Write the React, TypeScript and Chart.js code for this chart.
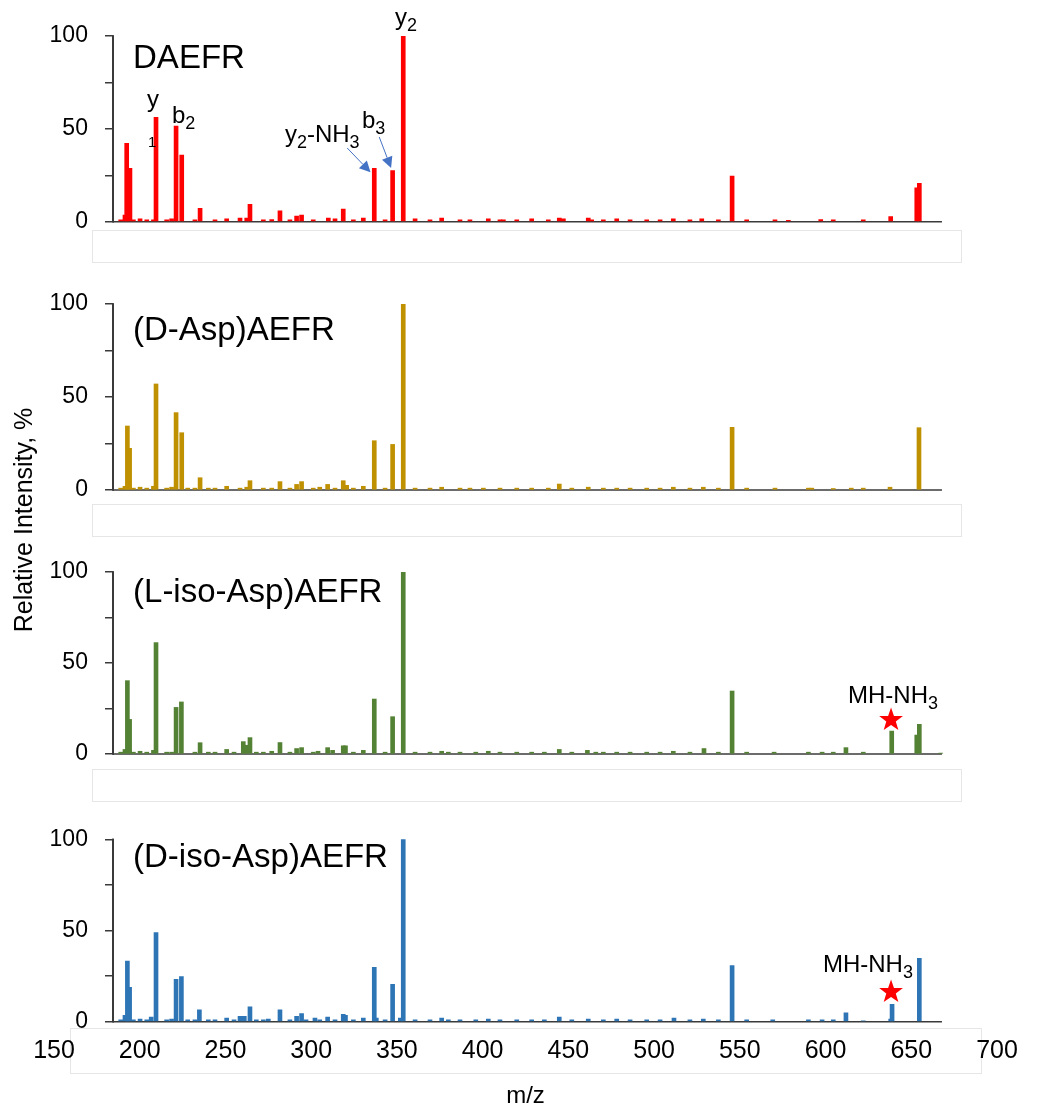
import React, { useEffect, useRef } from "react";
import { Chart, registerables } from "chart.js";

Chart.register(...registerables);

const FONT = "'Liberation Sans', Arial, Helvetica, sans-serif";
const AXIS_COLOR = "#3a3a3a";
const ARROW_COLOR = "#4472C4";
const STAR_COLOR = "#FF0000";

// ---- axes ----
const X_MIN = 150;
const X_MAX = 700;
const X_TICKS = [150, 200, 250, 300, 350, 400, 450, 500, 550, 600, 650, 700];
const Y_MIN = 0;
const Y_MAX = 100;
const Y_TICKS = [0, 25, 50, 75, 100];
const Y_TICK_LABELS = [0, 50, 100];
const AXIS_START = 184.4; // m/z where the vertical axis stands
const AXIS_END = 667.9; // m/z where the horizontal axis line stops
const Y_LABEL_MZ = 169.8; // m/z where the y tick labels end (right-aligned)
const X_TITLE = "m/z";
const Y_TITLE = "Relative Intensity, %";

// ---- series ----
const PANEL_NAMES = ["DAEFR", "(D-Asp)AEFR", "(L-iso-Asp)AEFR", "(D-iso-Asp)AEFR"];
const PANEL_COLORS = ["#FF0000", "#BF9000", "#548235", "#2E75B6"];

const daefrMz = [
  188.9, 191.4, 192.4, 194.3, 196.3, 200.2, 204.1, 208.0, 209.5, 215.7, 218.6, 221.2, 224.5, 232.2,
  235.2, 243.9, 250.7, 258.5, 262.4, 264.3, 272.1, 277.0, 281.8, 287.6, 291.5, 294.4, 301.2, 310.0,
  313.9, 318.7, 324.6, 330.4, 336.8, 343.1, 347.5, 353.7, 360.6, 369.3, 376.1, 386.8, 392.6, 403.3,
  410.1, 412.1, 419.9, 428.6, 438.3, 444.7, 447.1, 461.6, 463.6, 470.4, 478.2, 486.0, 495.7, 503.5,
  511.2, 520.9, 527.8, 537.5, 545.5, 554.0, 570.5, 578.3, 597.2, 604.5, 622.0, 638.0, 653.2, 654.7,
];
const daefrInt = [
  1, 3.6, 42.2, 28.7, 1, 1.5, 1, 1, 56.2, 1, 1.5, 51.5, 35.9, 1,
  7.2, 1, 1.5, 2, 2, 9.4, 1, 1.2, 5.9, 1, 3, 3.5, 1, 2,
  1.5, 6.8, 1, 2, 28.7, 1, 27.5, 100, 1.5, 1, 2, 1, 1, 1.5,
  1, 1, 1, 1.5, 1, 2, 1.5, 2, 1, 1, 1.5, 1, 1, 1,
  1.5, 1, 1.5, 1, 24.6, 1, 1, 0.8, 1.2, 1, 1, 2.7, 18.3, 20.7,
];

const dAspMz = [
  188.9, 191.4, 192.8, 194.1, 196.3, 200.2, 204.1, 208.0, 209.5, 215.7, 218.6, 221.2, 224.5, 228.0,
  232.2, 235.2, 240.0, 243.9, 250.7, 258.5, 262.4, 264.3, 272.1, 277.0, 281.8, 287.6, 291.5, 294.4,
  301.2, 305.0, 309.6, 313.9, 318.7, 320.7, 324.6, 330.4, 336.8, 343.1, 347.5, 353.7, 360.6, 369.3,
  376.1, 386.8, 392.6, 400.4, 410.1, 419.9, 428.6, 438.3, 444.7, 452.0, 461.6, 470.4, 478.2, 486.0,
  495.7, 503.5, 511.2, 520.9, 528.7, 537.5, 545.5, 554.0, 570.5, 590.0, 592.0, 604.5, 615.0, 622.0,
  637.6, 654.5,
];
const dAspInt = [
  1, 2, 34.4, 22.4, 1, 1.5, 1, 2, 57, 1, 1.5, 41.6, 30.8, 1,
  1, 6.6, 1, 1, 2, 1, 1.5, 5, 1, 1, 4.5, 1, 3, 4.5,
  1, 1.5, 3, 1, 5, 2.5, 1, 2, 26.5, 1, 24.5, 100, 1, 1,
  1.5, 1, 1, 1, 1, 1, 1, 1, 3.2, 1, 1.5, 1, 1, 1,
  1, 1, 1.5, 1, 1.5, 1, 33.7, 1, 1, 1, 1, 0.8, 1, 1,
  1.5, 33.5,
];

const lIsoAspMz = [
  188.9, 191.4, 192.8, 194.1, 196.3, 200.2, 204.1, 208.0, 209.5, 215.7, 218.6, 221.2, 224.3, 232.2,
  235.2, 240.0, 243.9, 250.7, 255.0, 260.4, 261.8, 264.3, 268.0, 272.1, 277.0, 281.8, 287.6, 291.5,
  294.4, 301.2, 304.0, 309.6, 312.5, 318.7, 320.0, 324.6, 330.4, 336.8, 343.1, 347.5, 353.7, 360.6,
  369.3, 376.1, 380.0, 386.8, 396.0, 403.3, 410.1, 419.9, 428.6, 436.0, 444.7, 452.0, 461.1, 466.0,
  470.4, 478.2, 486.0, 495.7, 503.5, 511.2, 520.9, 529.1, 537.5, 545.5, 554.0, 570.0, 590.0, 598.0,
  604.5, 611.9, 622.0, 638.6, 653.2, 654.7, 667.2,
];
const lIsoAspInt = [
  1, 2.5, 40.3, 19, 1, 1.5, 1, 2, 61.2, 1, 1, 25.6, 28.6, 1,
  6.2, 1, 1, 2.5, 1, 6.8, 4.8, 9, 1, 1, 1.5, 6.3, 1, 3,
  3.5, 1, 1.5, 3.5, 2, 4.5, 4.5, 1, 2, 30.2, 1, 20.5, 100, 1,
  1, 1.5, 1, 1, 1, 1.5, 1, 1, 1, 1, 2.5, 1, 2, 1,
  1, 1, 1, 1, 1, 1.5, 1, 3, 1, 34.6, 1, 1, 1, 1,
  1, 3.5, 1, 12.6, 10.4, 16.3, 0.5,
];

const dIsoAspMz = [
  188.9, 191.4, 192.8, 194.1, 196.3, 200.2, 204.1, 206.7, 209.5, 215.7, 218.6, 221.2, 224.3, 228.0,
  232.2, 234.8, 240.0, 243.9, 250.7, 255.0, 258.5, 261.0, 264.3, 268.0, 272.1, 275.0, 281.8, 287.6,
  291.5, 294.4, 297.0, 302.2, 305.0, 309.6, 313.9, 318.7, 320.0, 324.6, 330.4, 336.8, 338.0, 343.1,
  347.5, 352.0, 353.7, 360.6, 369.3, 376.1, 380.0, 386.8, 396.0, 403.3, 410.1, 419.9, 428.6, 436.0,
  444.7, 452.0, 461.6, 470.4, 478.2, 486.0, 495.7, 503.5, 511.6, 520.9, 528.7, 537.5, 545.5, 554.0,
  569.2, 590.0, 598.0, 604.5, 611.9, 622.0, 638.0, 638.8, 654.7,
];
const dIsoAspInt = [
  1, 3.5, 33.3, 18.9, 1, 1.5, 1, 2.5, 48.8, 1, 1.5, 23.2, 24.7, 1,
  1, 6.5, 1, 1, 2, 1, 3, 3, 8.2, 1, 1, 1.5, 6.5, 1,
  3, 4.5, 1, 2, 1, 2.5, 1, 4, 3.5, 1, 2, 29.8, 2, 1,
  20.5, 2, 100, 1, 1, 2, 1, 1, 1, 1.5, 1, 1, 1, 1,
  2.5, 1, 1.5, 1, 1.5, 1, 1, 1, 2, 1, 1.5, 1, 30.7, 1,
  1, 1, 1, 1, 4.9, 0.5, 1.5, 9.5, 34.7,
];

// ---- annotations (anchored in data units: m/z, intensity) ----
type TextNote = { text: string; mz: number; val: number; size: number };
type ArrowNote = { fromMz: number; fromVal: number; toMz: number; toVal: number };
type StarNote = { mz: number; val: number };

const PANEL_TITLE_MZ = 196.1;
const PANEL_TITLE_VAL = [82.6, 80.6, 83.7, 85.0];

const NOTES: TextNote[][] = [
  [
    { text: "y", mz: 204.2, val: 61.9, size: 24 },
    { text: "1", mz: 204.8, val: 40.2, size: 15 },
    { text: "b_2", mz: 218.8, val: 53.1, size: 24 },
    { text: "y_2", mz: 348.9, val: 105.9, size: 24 },
    { text: "y_2-NH_3", mz: 284.7, val: 43.1, size: 24 },
    { text: "b_3", mz: 329.6, val: 50.4, size: 24 },
  ],
  [],
  [{ text: "MH-NH_3", mz: 613.1, val: 27.9, size: 24 }],
  [{ text: "MH-NH_3", mz: 598.5, val: 27.4, size: 24 }],
];
const ARROWS: ArrowNote[][] = [
  [
    { fromMz: 321.0, fromVal: 39.7, toMz: 334.6, toVal: 26.6 },
    { fromMz: 339.7, fromVal: 45.6, toMz: 346.6, toVal: 28.9 },
  ],
  [],
  [],
  [],
];
const STARS: StarNote[][] = [[], [], [{ mz: 638.2, val: 18.7 }], [{ mz: 638.2, val: 16.3 }]];

const PANEL_MZ = [daefrMz, dAspMz, lIsoAspMz, dIsoAspMz];
const PANEL_INT = [daefrInt, dAspInt, lIsoAspInt, dIsoAspInt];

// ---- layout (canvas top, height, padding) ----
const LAYOUT = [
  { top: 0, height: 280, padTop: 36, padBottom: 58.3 },
  { top: 280, height: 260, padTop: 24, padBottom: 50 },
  { top: 540, height: 250, padTop: 32, padBottom: 36 },
  { top: 790, height: 325, padTop: 49.3, padBottom: 0 },
];
const X_AXIS_HEIGHT = 93.3;
const BOXES = [
  { left: 92, top: 230, width: 870, height: 33 },
  { left: 92, top: 504, width: 870, height: 33 },
  { left: 92, top: 769, width: 870, height: 33 },
  { left: 70, top: 1028, width: 912, height: 46 },
];

function drawRich(ctx: CanvasRenderingContext2D, text: string, x: number, y: number, size: number) {
  const subSize = Math.round(size * 0.75);
  let cx = x;
  let i = 0;
  while (i < text.length) {
    if (text[i] === "_" && i + 1 < text.length) {
      ctx.font = `${subSize}px ${FONT}`;
      ctx.fillText(text[i + 1], cx, y + size * 0.25);
      cx += ctx.measureText(text[i + 1]).width;
      i += 2;
    } else {
      let j = i;
      while (j < text.length && text[j] !== "_") j++;
      const part = text.slice(i, j);
      ctx.font = `${size}px ${FONT}`;
      ctx.fillText(part, cx, y);
      cx += ctx.measureText(part).width;
      i = j;
    }
  }
}

function drawStar(ctx: CanvasRenderingContext2D, cx: number, cy: number, R: number, r: number) {
  ctx.beginPath();
  for (let k = 0; k < 10; k++) {
    const a = -Math.PI / 2 + (k * Math.PI) / 5;
    const rad = k % 2 === 0 ? R : r;
    const px = cx + rad * Math.cos(a);
    const py = cy + rad * Math.sin(a);
    if (k === 0) ctx.moveTo(px, py);
    else ctx.lineTo(px, py);
  }
  ctx.closePath();
  ctx.fill();
}

function drawArrow(ctx: CanvasRenderingContext2D, x1: number, y1: number, x2: number, y2: number) {
  const ang = Math.atan2(y2 - y1, x2 - x1);
  const headLen = 11;
  const headW = 5.5;
  const bx = x2 - headLen * Math.cos(ang);
  const by = y2 - headLen * Math.sin(ang);
  ctx.strokeStyle = ARROW_COLOR;
  ctx.fillStyle = ARROW_COLOR;
  ctx.lineWidth = 1;
  ctx.beginPath();
  ctx.moveTo(x1, y1);
  ctx.lineTo(bx, by);
  ctx.stroke();
  ctx.beginPath();
  ctx.moveTo(x2, y2);
  ctx.lineTo(bx + headW * Math.sin(ang), by - headW * Math.cos(ang));
  ctx.lineTo(bx - headW * Math.sin(ang), by + headW * Math.cos(ang));
  ctx.closePath();
  ctx.fill();
}

function makePlugin(idx: number) {
  return {
    id: "spectrumOverlay" + idx,
    beforeDatasetsDraw(chart: any) {
      const { ctx, scales } = chart;
      const x = scales.x;
      const y = scales.y;
      const py0 = y.getPixelForValue(Y_MIN);
      ctx.save();
      ctx.strokeStyle = AXIS_COLOR;
      ctx.lineWidth = 1.5;
      ctx.beginPath();
      ctx.moveTo(x.getPixelForValue(AXIS_START), py0);
      ctx.lineTo(x.getPixelForValue(AXIS_END), py0);
      ctx.stroke();
      ctx.restore();
    },
    afterDraw(chart: any) {
      const { ctx, scales } = chart;
      const x = scales.x;
      const y = scales.y;
      ctx.save();
      // vertical axis line
      const px0 = Math.round(x.getPixelForValue(AXIS_START));
      ctx.fillStyle = AXIS_COLOR;
      ctx.fillRect(px0 - 1, y.getPixelForValue(Y_MAX) - 0.75, 2, y.getPixelForValue(Y_MIN) - y.getPixelForValue(Y_MAX) + 1.5);

      ctx.fillStyle = "#000";
      ctx.textBaseline = "alphabetic";
      ctx.textAlign = "left";
      ctx.font = `33px ${FONT}`;
      ctx.fillText(PANEL_NAMES[idx], x.getPixelForValue(PANEL_TITLE_MZ), y.getPixelForValue(PANEL_TITLE_VAL[idx]));
      NOTES[idx].forEach((n) => {
        ctx.fillStyle = "#000";
        drawRich(ctx, n.text, x.getPixelForValue(n.mz), y.getPixelForValue(n.val), n.size);
      });
      ARROWS[idx].forEach((a) => {
        drawArrow(
          ctx,
          x.getPixelForValue(a.fromMz),
          y.getPixelForValue(a.fromVal),
          x.getPixelForValue(a.toMz),
          y.getPixelForValue(a.toVal)
        );
      });
      STARS[idx].forEach((s) => {
        ctx.fillStyle = STAR_COLOR;
        drawStar(ctx, x.getPixelForValue(s.mz), y.getPixelForValue(s.val), 12.5, 5);
      });
      ctx.restore();
    },
  };
}

const yTicksFromList = (s: any) => {
  s.ticks = Y_TICKS.map((v) => ({ value: v }));
};

function Panel({ idx }: { idx: number }) {
  const ref = useRef<HTMLCanvasElement>(null);
  const lay = LAYOUT[idx];
  const isBottom = idx === PANEL_NAMES.length - 1;
  useEffect(() => {
    const canvas = ref.current;
    if (!canvas) return;
    const data = PANEL_MZ[idx].map((m, i) => ({ x: m, y: PANEL_INT[idx][i] }));
    const xScale: any = {
      type: "linear",
      min: X_MIN,
      max: X_MAX,
      offset: false,
      display: isBottom,
      grid: { display: false, drawTicks: false },
      border: { display: false },
      afterBuildTicks: (s: any) => {
        s.ticks = X_TICKS.map((v) => ({ value: v }));
      },
      ticks: {
        autoSkip: false,
        maxRotation: 0,
        color: "#000",
        padding: 14,
        font: { family: FONT, size: 25 },
      },
      title: {
        display: isBottom,
        text: X_TITLE,
        color: "#000",
        font: { family: FONT, size: 24 },
        padding: { top: 0, bottom: 4 },
      },
    };
    if (isBottom) {
      xScale.afterFit = (s: any) => {
        s.height = X_AXIS_HEIGHT;
      };
    }
    const chart = new Chart(canvas, {
      type: "bar",
      data: {
        datasets: [
          {
            label: PANEL_NAMES[idx],
            data,
            backgroundColor: PANEL_COLORS[idx],
            borderWidth: 0,
            barThickness: 4,
          } as any,
        ],
      },
      options: {
        animation: false,
        responsive: false,
        devicePixelRatio: 1,
        events: [],
        layout: { padding: { left: 54, right: 41, top: lay.padTop, bottom: lay.padBottom } },
        plugins: { legend: { display: false }, tooltip: { enabled: false } },
        scales: {
          x: xScale,
          y: {
            type: "linear",
            min: Y_MIN,
            max: Y_MAX,
            position: { x: AXIS_START } as any,
            grid: { drawOnChartArea: false, drawTicks: true, tickLength: 7, color: AXIS_COLOR, lineWidth: 1.5 },
            border: { display: true, color: AXIS_COLOR, width: 1.5 },
            afterBuildTicks: yTicksFromList,
            ticks: { display: false },
          },
          yLabels: {
            type: "linear",
            axis: "y",
            min: Y_MIN,
            max: Y_MAX,
            position: { x: Y_LABEL_MZ } as any,
            grid: { display: false, drawTicks: false },
            border: { display: false },
            afterBuildTicks: yTicksFromList,
            ticks: {
              autoSkip: false,
              color: "#000",
              padding: 0,
              font: { family: FONT, size: 23 },
              callback: (v: any) => (Y_TICK_LABELS.includes(Number(v)) ? String(v) : ""),
            },
          },
        },
      } as any,
      plugins: [makePlugin(idx)],
    });
    return () => chart.destroy();
  }, []);
  return (
    <canvas
      ref={ref}
      width={1038}
      height={lay.height}
      style={{ position: "absolute", left: 0, top: lay.top, width: 1038, height: lay.height, display: "block" }}
    />
  );
}

export default function App() {
  return (
    <div
      style={{
        position: "absolute",
        left: 0,
        top: 0,
        width: 1038,
        height: 1115,
        background: "#fff",
        overflow: "hidden",
        fontFamily: FONT,
      }}
    >
      {BOXES.map((b, i) => (
        <div
          key={"box" + i}
          style={{
            position: "absolute",
            left: b.left,
            top: b.top,
            width: b.width,
            height: b.height,
            border: "1px solid #e6e6e6",
            boxSizing: "border-box",
          }}
        />
      ))}
      {PANEL_NAMES.map((_, i) => (
        <Panel key={i} idx={i} />
      ))}
      <div
        style={{
          position: "absolute",
          left: 23 - 160,
          top: 520 - 15,
          width: 320,
          height: 30,
          lineHeight: "30px",
          textAlign: "center",
          fontSize: 25,
          color: "#000",
          transform: "rotate(-90deg)",
          whiteSpace: "nowrap",
        }}
      >
        {Y_TITLE}
      </div>
    </div>
  );
}
